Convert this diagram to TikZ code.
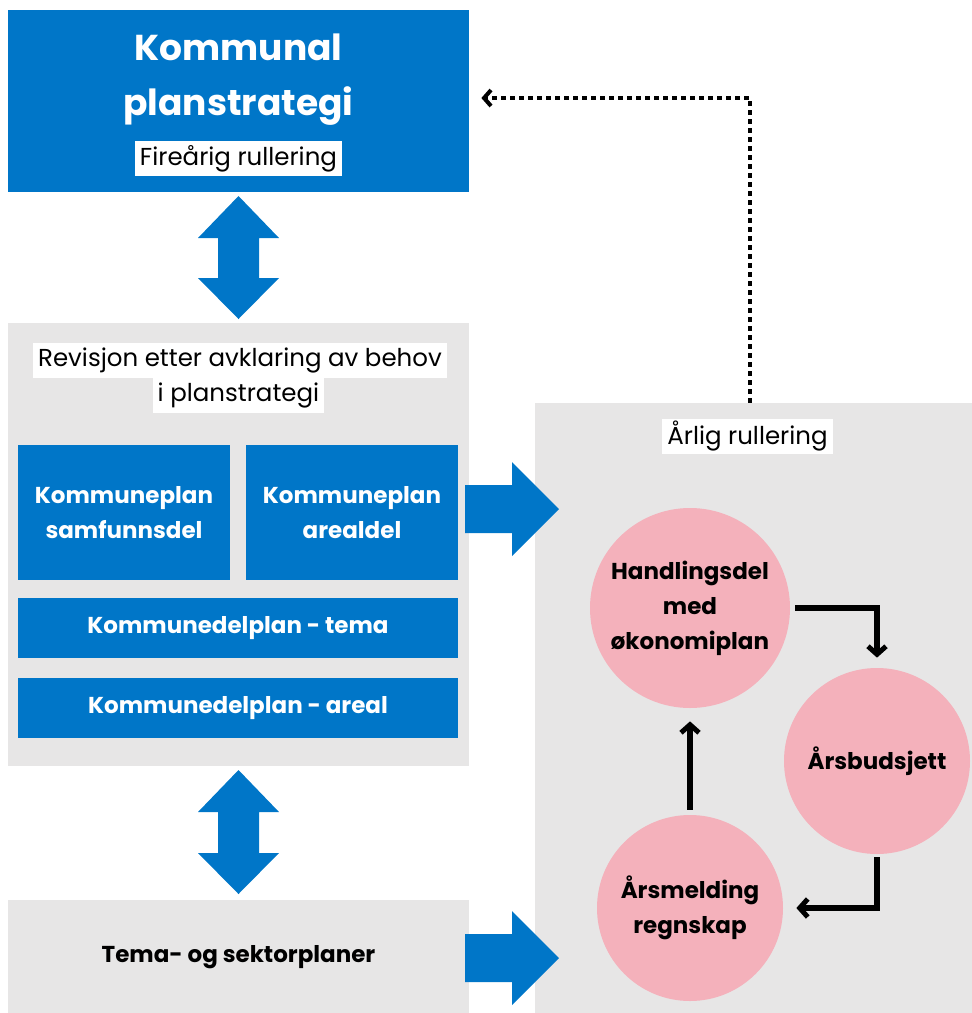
\documentclass[tikz,border=0pt]{standalone}
\usepackage{fontspec}
\setmainfont{Poppins}
\usetikzlibrary{arrows.meta}
\definecolor{planblue}{RGB}{0,118,200}
\definecolor{plangray}{RGB}{231,230,230}
\definecolor{planpink}{RGB}{244,177,187}
\tikzset{every picture/.style={line width=0.75pt}}
\tikzset{cyclearrow/.style={draw=black, line width=6pt, -{Straight Barb[length=8pt,width=18pt,line width=5pt]}}}

\begin{document}
\begin{tikzpicture}[x=1pt,y=1pt,yscale=-1,
  bluebox/.style={fill=planblue, text=white, font=\bfseries\fontsize{23}{35}\selectfont, align=center, inner sep=0pt},
  graybox/.style={fill=plangray, inner sep=0pt},
  whitelabel/.style={fill=white, font=\fontsize{24.5}{34}\selectfont, inner xsep=5pt, inner ysep=0pt, minimum height=35},
  cyclenode/.style={circle, fill=planpink, font=\bfseries\fontsize{23}{35}\selectfont, align=center, inner sep=0pt},
  blockarrow/.style={fill=planblue},
  dotline/.style={line width=4pt, dash pattern=on 4.5pt off 4.5pt, -{Straight Barb[length=7pt,width=16pt,line width=4pt]}}]
\useasboundingbox (0,0) rectangle (972,1013);

%Boxes
\node[bluebox, minimum width=461, minimum height=182] (plan) at (238.5,101) {};
\node[font=\bfseries\fontsize{36}{55}\selectfont, text=white, align=center, inner sep=0pt] (plantitle) at (238.5,80) {Kommunal\\planstrategi};
\node[whitelabel, minimum width=199] (fire) at (238.5,158.5) {Fireårig rullering};

\node[graybox, minimum width=461, minimum height=443] (revisjon) at (238.5,544.5) {};
\node[whitelabel] (rev1) at (240,360.5) {Revisjon etter avklaring av behov};
\node[whitelabel] (rev2) at (238.5,395) {i planstrategi};
\node[bluebox, minimum width=212, minimum height=135] (samfunn) at (124,512.5) {Kommuneplan\\samfunnsdel};
\node[bluebox, minimum width=212, minimum height=135] (areal) at (352,512.5) {Kommuneplan\\arealdel};
\node[bluebox, minimum width=440, minimum height=60] (deltema) at (238,628) {Kommunedelplan - tema};
\node[bluebox, minimum width=440, minimum height=60] (delareal) at (238,708) {Kommunedelplan - areal};

\node[graybox, minimum width=461, minimum height=115, font=\bfseries\fontsize{23}{26}\selectfont] (sektor) at (238.5,957) {Tema- og sektorplaner};

\node[graybox, minimum width=437, minimum height=610] (aarlig) at (753.5,708) {};
\node[whitelabel] (aarliglabel) at (747.5,436) {Årlig rullering};

%Cycle
\node[cyclenode, minimum size=200] (handling) at (690,608) {Handlingsdel\\med\\økonomiplan};
\node[cyclenode, minimum size=186] (budsjett) at (877,761) {Årsbudsjett};
\node[cyclenode, minimum size=186] (melding) at (690,908) {Årsmelding\\regnskap};

%Shape: double arrows
\fill[blockarrow] (238.5,196) -- (279,238) -- (259,238) -- (259,278) -- (279,278) -- (238.5,319) -- (198,278) -- (218,278) -- (218,238) -- (198,238) -- cycle;
\fill[blockarrow] (238.5,770) -- (279,812) -- (259,812) -- (259,853) -- (279,853) -- (238.5,894) -- (198,853) -- (218,853) -- (218,812) -- (198,812) -- cycle;
%Shape: right arrows
\fill[blockarrow] (465,485) -- (512,485) -- (512,462) -- (559,509) -- (512,556) -- (512,533) -- (465,533) -- cycle;
\fill[blockarrow] (465,934) -- (512,934) -- (512,911) -- (559,958) -- (512,1005) -- (512,982) -- (465,982) -- cycle;

%Connectors
\draw[cyclearrow, shorten <=5pt, shorten >=10pt] (handling.east) -| (budsjett.north);
\draw[cyclearrow, shorten <=3pt, shorten >=13pt] (budsjett.south) |- (melding.east);
\draw[cyclearrow, shorten <=5pt, shorten >=13pt] (melding.north) -- (handling.south);

\coordinate (dottop) at (750,98);
\draw[dotline, shorten >=12pt] (aarlig.north -| dottop) -- (dottop) -- (plan.east |- dottop);

\end{tikzpicture}
\end{document}
